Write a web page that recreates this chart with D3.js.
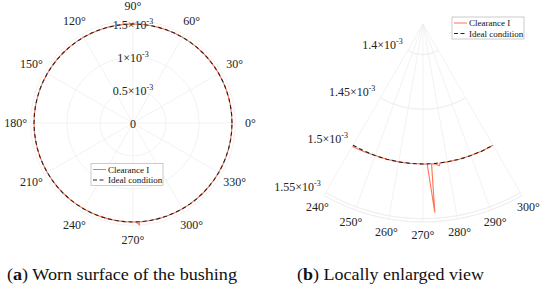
<!DOCTYPE html>
<html>
<head>
<meta charset="utf-8">
<script src="https://cdn.jsdelivr.net/npm/d3@7"></script>
</head>
<body style="margin:0">
<svg id="chart" width="550" height="298"></svg>
<script>
// radii are in units of 1e-3
var clearanceTheta = [0,5,10,15,20,25,30,35,40,45,50,55,60,65,70,75,80,85,90,95,100,105,110,115,120,125,130,135,140,145,150,155,160,165,170,175,180,185,190,195,200,205,210,215,220,225,230,235,240,245,250,255,260,265,270,271.7,273.6,273.5,275.3,276.5,277,280,285,290,295,300,305,310,315,320,325,330,335,340,345,350,355,360];
var clearanceR = [1.5,1.5,1.5,1.5,1.5,1.5,1.5,1.5,1.5,1.5,1.5,1.5,1.5,1.5,1.5,1.5,1.5,1.5,1.5,1.5,1.5,1.5,1.5,1.5,1.5,1.5,1.5,1.5,1.5,1.5,1.5,1.5,1.5,1.5,1.5,1.5,1.5,1.5,1.5,1.5,1.5,1.5,1.5,1.5,1.5,1.5,1.5,1.5,1.5012,1.5006,1.5,1.5,1.5,1.5,1.5,1.5,1.5448,1.5,1.5008,1.5025,1.5,1.5,1.5,1.5,1.5,1.5,1.5,1.5,1.5,1.5,1.5,1.5,1.5,1.5,1.5,1.5,1.5,1.5];
var idealTheta = [0,5,10,15,20,25,30,35,40,45,50,55,60,65,70,75,80,85,90,95,100,105,110,115,120,125,130,135,140,145,150,155,160,165,170,175,180,185,190,195,200,205,210,215,220,225,230,235,240,245,250,255,260,265,270,275,280,285,290,295,300,305,310,315,320,325,330,335,340,345,350,355,360];
var idealR = 1.5;

// axis ticks
var fullRTicks = [0.5, 1, 1.5];
var fullThetaTicks = [0,30,60,90,120,150,180,210,240,270,300,330];
var zoomRTicks = [1.4, 1.45, 1.5, 1.55];
var zoomThetaTicks = [240,250,260,270,280,290,300];

var seriesNames = ["Clearance I", "Ideal condition"];
var captions = [["a", " Worn surface of the bushing"], ["b", " Locally enlarged view"]];

var orange = "#ff7352", gridColor = "#ececec";
var rad = Math.PI / 180;

var clearance = clearanceTheta.map((t, i) => ({t: t, r: clearanceR[i]}));
var ideal = idealTheta.map(t => ({t: t, r: idealR}));

var svg = d3.select("#chart");

function pt(cx, cy, rpx, t) {
  return [cx + rpx * Math.cos(t * rad), cy - rpx * Math.sin(t * rad)];
}

// every label goes through here so the font is set in one place
function label(g, x, y, size) {
  return g.append("text").attr("x", x).attr("y", y)
    .style("font-family", "'Liberation Serif'")
    .style("font-size", size + "px")
    .attr("fill", "#222");
}

function rLabel(g, x, y, v, anchor) {
  var txt = label(g, x, y + 4, 12).attr("text-anchor", anchor);
  if (v === 0) { txt.text("0"); return; }
  txt.append("tspan").text(v + "\u00d710");
  txt.append("tspan").attr("dy", -5).style("font-size", "8px").text("-3");
}

function legend(g, x, y) {
  g.append("rect").attr("x", x).attr("y", y).attr("width", 72).attr("height", 22)
    .attr("fill", "#fff").attr("stroke", "#a8a8a8").attr("stroke-width", 0.6);
  seriesNames.forEach((name, i) => {
    var yy = y + 6 + i * 10.5;
    g.append("line").attr("x1", x + 2).attr("x2", x + 15).attr("y1", yy).attr("y2", yy)
      .attr("stroke", i === 0 ? orange : "#222").attr("stroke-width", 1)
      .attr("stroke-dasharray", i === 0 ? null : "4,2.5");
    label(g, x + 17, yy + 3, 9).attr("fill", "#111").text(name);
  });
}

// ---- (a) full polar view
var cxA = 133, cyA = 123;
var rA = d3.scaleLinear().domain([0, 1.55]).range([0, 102.3]);
var gA = svg.append("g");

fullRTicks.concat([1.55]).forEach(v => {
  gA.append("circle").attr("cx", cxA).attr("cy", cyA).attr("r", rA(v))
    .attr("fill", "none").attr("stroke", gridColor).attr("stroke-width", 0.7);
});
fullThetaTicks.forEach(t => {
  var p = pt(cxA, cyA, rA(1.55), t);
  gA.append("line").attr("x1", cxA).attr("y1", cyA).attr("x2", p[0]).attr("y2", p[1])
    .attr("stroke", gridColor).attr("stroke-width", 0.7);
  var q = pt(cxA, cyA, rA(1.55) + 15, t);
  label(gA, q[0], q[1] + 4, 12).attr("text-anchor", "middle").text(t + "\u00b0");
});
[0].concat(fullRTicks).forEach(v => rLabel(gA, cxA, cyA - rA(v) + 1, v, "middle"));

var lineA = d3.lineRadial().angle(d => (90 - d.t) * rad).radius(d => rA(d.r));
var plotA = gA.append("g").attr("transform", `translate(${cxA},${cyA})`);
plotA.append("path").attr("d", lineA(clearance)).attr("fill", "none")
  .attr("stroke", orange).attr("stroke-width", 1.1);
plotA.append("path").attr("d", lineA(ideal)).attr("fill", "none")
  .attr("stroke", "#222").attr("stroke-width", 1.1).attr("stroke-dasharray", "4,3");
legend(gA, 91, 163.5);

// ---- (b) locally enlarged view
var cxB = 423, cyB = 24;
var rB = d3.scaleLinear().domain([1.372, 1.553]).range([0, 198]);
var gB = svg.append("g");
var t0 = d3.min(zoomThetaTicks), t1 = d3.max(zoomThetaTicks);

var arcB = d3.arc().startAngle((90 - t1) * rad).endAngle((90 - t0) * rad);
zoomRTicks.concat([1.553]).forEach(v => {
  gB.append("path").attr("transform", `translate(${cxB},${cyB})`)
    .attr("d", arcB.innerRadius(rB(v)).outerRadius(rB(v))())
    .attr("fill", "none").attr("stroke", gridColor).attr("stroke-width", 0.7);
});
zoomThetaTicks.forEach(t => {
  var p = pt(cxB, cyB, rB(1.553), t);
  gB.append("line").attr("x1", cxB).attr("y1", cyB).attr("x2", p[0]).attr("y2", p[1])
    .attr("stroke", gridColor).attr("stroke-width", 0.7);
  var q = pt(cxB, cyB, rB(1.553) + 13, t);
  label(gB, q[0], q[1] + 4, 12).attr("text-anchor", "middle").text(t + "\u00b0");
});
zoomRTicks.forEach(v => {
  var p = pt(cxB, cyB, rB(v), t0);
  rLabel(gB, p[0] - 5, p[1] - 6, v, "end");
});

var lineB = d3.lineRadial().angle(d => (90 - d.t) * rad).radius(d => rB(d.r));
var plotB = gB.append("g").attr("transform", `translate(${cxB},${cyB})`);
var inB = d => d.t >= t0 && d.t <= t1;
plotB.append("path").attr("d", lineB(clearance.filter(inB))).attr("fill", "none")
  .attr("stroke", orange).attr("stroke-width", 1.1);
plotB.append("path").attr("d", lineB(ideal.filter(inB))).attr("fill", "none")
  .attr("stroke", "#222").attr("stroke-width", 1.1).attr("stroke-dasharray", "4,3");
legend(gB, 452, 17);

// ---- captions
[[7, 230], [297, 187]].forEach((pos, i) => {
  var c = label(svg, pos[0], 280, 17).attr("fill", "#111")
    .attr("textLength", pos[1]).attr("lengthAdjust", "spacingAndGlyphs");
  c.append("tspan").text("(");
  c.append("tspan").style("font-weight", "bold").text(captions[i][0]);
  c.append("tspan").text(")" + captions[i][1]);
});
</script>
</body>
</html>
